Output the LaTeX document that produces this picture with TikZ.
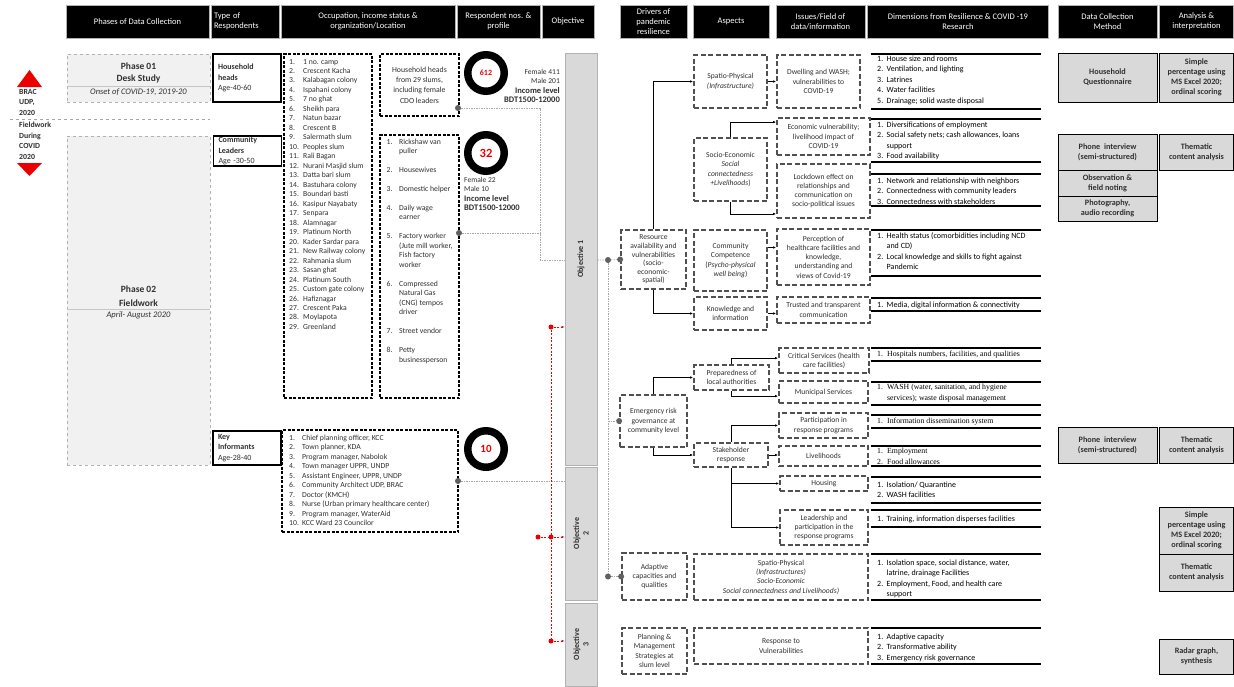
\documentclass[tikz,border=0pt]{standalone}
\usepackage{fontspec}
\setmainfont{Carlito}
\newfontfamily\timesfont{Liberation Serif}
\usetikzlibrary{arrows.meta, positioning, calc}
\definecolor{InkGray}{HTML}{303030}
\definecolor{DashGray}{HTML}{505050}
\definecolor{PhaseFill}{HTML}{F1F1F1}
\definecolor{MethodFill}{HTML}{D9D9D9}
\definecolor{AlertRed}{RGB}{235, 0, 0}

\begin{document}
\begin{tikzpicture}[x=1pt, y=-1pt,
    hdr/.style={fill=black, draw=gray!60, line width=0.6pt, text=white, align=center,
      font=\fontsize{8.5}{10}\selectfont, inner sep=1pt, minimum height=33pt},
    phase/.style={draw=gray!60, dashed, fill=PhaseFill, line width=0.8pt},
    tbox/.style={draw=black, line width=1.6pt, align=left, text width=58pt, inner xsep=5pt,
      inner ysep=0.5pt, font=\fontsize{8}{10.2}\selectfont, text=InkGray},
    lbox/.style={draw=black, line width=1.1pt, dash pattern=on 3pt off 1.5pt},
    dbox/.style={draw=DashGray, line width=1.8pt, dash pattern=on 5pt off 2.5pt, align=center,
      font=\fontsize{7.6}{9.3}\selectfont, text=InkGray, inner sep=1pt},
    obox/.style={draw=gray!60, fill=MethodFill, line width=0.8pt, minimum width=32pt},
    otext/.style={rotate=90, align=center, text=InkGray, font=\bfseries\fontsize{8}{9.5}\selectfont},
    mbox/.style={draw=black, line width=1pt, fill=MethodFill, align=center,
      font=\bfseries\fontsize{8.2}{10}\selectfont, text=InkGray, inner sep=1pt},
    ring/.style={circle, draw=black, line width=7.5pt, minimum size=36.5pt, inner sep=0pt, text=AlertRed},
    plist/.style={inner sep=0pt, anchor=base west, text=InkGray, font=\fontsize{7.7}{9.48}\selectfont},
    dlist/.style={inner sep=0pt, anchor=base west, text=black, font=\fontsize{8}{10.4}\selectfont},
    jdot/.style={circle, fill=gray!75!black, inner sep=0pt, minimum size=6pt},
    rdot/.style={circle, fill=AlertRed, inner sep=0pt, minimum size=5pt},
    lnk/.style={gray!70, line width=0.6pt, dash pattern=on 1.5pt off 1pt},
    rlnk/.style={AlertRed, line width=0.6pt, dash pattern=on 2pt off 1.5pt},
    arr/.style={black, line width=0.6pt, -{Latex[length=3pt, width=2.5pt]}},
    dline/.style={black, line width=1.3pt}
  ]
\fill[white] (0,0) rectangle (1234,686);
\useasboundingbox (0,0) rectangle (1234,686);

% header row
\node[hdr, minimum width=143pt] (hPhase) at (137.5,21.5) {Phases of Data Collection};
\node[hdr, minimum width=68pt, align=left, text width=62pt] (hType) at (245,21.5) {Type of\\Respondents};
\node[hdr, minimum width=174pt] (hOcc) at (368,21.5) {Occupation, income status \&\\organization/Location};
\node[hdr, minimum width=83pt] (hResp) at (498.5,21.5) {Respondent nos. \&\\profile};
\node[hdr, minimum width=52pt] (hObj) at (568,21.5) {Objective};
\node[hdr, minimum width=67pt] (hDrv) at (653.5,21.5) {Drivers of\\pandemic\\resilience};
\node[hdr, minimum width=76pt] (hAsp) at (731,21.5) {Aspects};
\node[hdr, minimum width=89pt] (hIss) at (820.5,21.5) {Issues/Field of\\data/information};
\node[hdr, minimum width=181pt] (hDim) at (958,21.5) {Dimensions from Resilience \& COVID -19\\Research};
\node[hdr, minimum width=99pt] (hDcm) at (1107.5,21.5) {Data Collection\\Method};
\node[hdr, minimum width=74pt] (hAna) at (1196.5,21.5) {Analysis \&\\interpretation};

% phases
\fill[AlertRed] (17,87) -- (42,87) -- (29.5,70) -- cycle;
\fill[AlertRed] (17,163) -- (42,163) -- (29.5,176) -- cycle;
\node[anchor=north west, align=left, inner sep=0pt, text=InkGray, font=\bfseries\fontsize{7.8}{10.5}\selectfont] (brac) at (19,89) {BRAC\\UDP,\\2020};
\node[anchor=north west, align=left, inner sep=0pt, text=InkGray, font=\bfseries\fontsize{7.8}{10.5}\selectfont] (field) at (19,122) {Fieldwork\\During\\COVID\\2020};
\draw[gray!70, dashed, line width=0.8pt] (10,119) -- (210,119);

\node[phase, minimum width=143pt, minimum height=48pt] (ph1) at (138.5,78) {};
\node[align=center, text=InkGray, font=\bfseries\fontsize{9.5}{12.5}\selectfont] (ph1t) at (138.5,73) {Phase 01\\Desk Study};
\draw[gray!45, line width=0.6pt] ([yshift=-8pt]ph1.west) -- ([yshift=-8pt]ph1.east);
\node[text=InkGray, font=\itshape\fontsize{8.5}{9}\selectfont] (ph1d) at (138.5,92) {Onset of COVID-19, 2019-20};

\node[phase, minimum width=143pt, minimum height=329pt] (ph2) at (138.5,300.5) {};
\node[align=center, text=InkGray, font=\bfseries\fontsize{9.5}{13.5}\selectfont] (ph2t) at (138.5,296) {Phase 02\\Fieldwork};
\draw[gray!45, line width=0.6pt] ([yshift=-8.5pt]ph2.west) -- ([yshift=-8.5pt]ph2.east);
\node[text=InkGray, font=\itshape\fontsize{8.5}{9}\selectfont] (ph2d) at (138.5,315) {April- August 2020};

% respondents
\node[tbox, minimum height=48pt] (tHH) at (247,78) {\textbf{Household}\\\textbf{heads}\\Age-40-60};
\node[tbox, minimum height=30pt] (tCL) at (247.5,151) {\textbf{Community}\\\textbf{Leaders}\\Age -30-50};
\node[tbox, minimum height=34pt] (tKI) at (247,448) {\textbf{Key}\\\textbf{Informants}\\Age-28-40};

\node[lbox, minimum width=88pt, minimum height=344pt] (occ) at (328,226) {};
\node[plist] (occl) at (289,64) {\begin{tabular}[t]{@{}p{10pt}@{\hspace{4pt}}l@{}}
1. & 1 no. camp\\ 2. & Crescent Kacha\\ 3. & Kalabagan colony\\ 4. & Ispahani colony\\
5. & 7 no ghat\\ 6. & Sheikh para\\ 7. & Natun bazar\\ 8. & Crescent B\\
9. & Salermath slum\\ 10. & Peoples slum\\ 11. & Rali Bagan\\ 12. & Nurani Masjid slum\\
13. & Datta bari slum\\ 14. & Bastuhara colony\\ 15. & Boundari basti\\ 16. & Kasipur Nayabaty\\
17. & Senpara\\ 18. & Alamnagar\\ 19. & Platinum North\\ 20. & Kader Sardar para\\
21. & New Railway colony\\ 22. & Rahmania slum\\ 23. & Sasan ghat\\ 24. & Platinum South\\
25. & Custom gate colony\\ 26. & Hafiznagar\\ 27. & Crescent Paka\\ 28. & Moylapota\\
29. & Greenland
\end{tabular}};

\node[lbox, minimum width=79pt, minimum height=62pt, align=center, text=InkGray, font=\fontsize{7.8}{10.3}\selectfont] (hh29) at (419.5,85) {Household heads\\from 29 slums,\\including female\\CDO leaders};

\node[lbox, minimum width=79pt, minimum height=263pt] (clb) at (419.5,266.5) {};
\node[plist] (cll) at (386.5,144) {\begin{tabular}[t]{@{}p{8.5pt}@{\hspace{4pt}}l@{}}
1. & Rickshaw van\\ & puller\\ & \\ 2. & Housewives\\ & \\ 3. & Domestic helper\\ & \\
4. & Daily wage\\ & earner\\ & \\ 5. & Factory worker\\ & (Jute mill worker,\\ & Fish factory\\ & worker\\ & \\
6. & Compressed\\ & Natural Gas\\ & (CNG) tempos\\ & driver\\ & \\ 7. & Street vendor\\ & \\
8. & Petty\\ & businessperson
\end{tabular}};

\node[lbox, minimum width=176pt, minimum height=102pt] (kib) at (370,481) {};
\node[plist, font=\fontsize{7.7}{9.5}\selectfont] (kil) at (289,440) {\begin{tabular}[t]{@{}p{9pt}@{\hspace{4pt}}l@{}}
1. & Chief planning officer, KCC\\ 2. & Town planner, KDA\\ 3. & Program manager, Nabolok\\
4. & Town manager UPPR, UNDP\\ 5. & Assistant Engineer, UPPR, UNDP\\ 6. & Community Architect UDP, BRAC\\
7. & Doctor (KMCH)\\ 8. & Nurse (Urban primary healthcare center)\\ 9. & Program manager, WaterAid\\
10. & KCC Ward 23 Councilor
\end{tabular}};

% respondent numbers
\node[ring, font=\bfseries\fontsize{8}{9}\selectfont] (c612) at (486,73) {612};
\node[ring, font=\bfseries\fontsize{12.5}{14}\selectfont] (c32) at (486,153) {32};
\node[ring, font=\bfseries\fontsize{11}{12}\selectfont] (c10) at (486,449) {10};
\node[anchor=north east, align=right, inner sep=0pt, text=InkGray, font=\fontsize{7.5}{9.5}\selectfont] (p612) at (560,69) {Female 411\\Male 201\\{\bfseries\fontsize{8.5}{9.5}\selectfont Income level}\\{\bfseries\fontsize{8.5}{9.5}\selectfont BDT1500-12000}};
\node[anchor=north west, align=left, inner sep=0pt, text=InkGray, font=\fontsize{7.5}{9.5}\selectfont] (p32) at (464,177) {Female 22\\Male 10\\{\bfseries\fontsize{8.5}{10}\selectfont Income level}\\{\bfseries\fontsize{8.5}{10}\selectfont BDT1500-12000}};

% objectives
\node[obox, minimum height=412pt] (obj1) at (581,259) {};
\node[otext] (obj1t) at (obj1) {Objective 1};
\node[obox, minimum height=133pt] (obj2) at (581,533.5) {};
\node[otext] (obj2t) at (obj2) {Objective\\2};
\node[obox, minimum height=83pt] (obj3) at (581,644.5) {};
\node[otext] (obj3t) at (obj3) {Objective\\3};

% respondents to objective 1
\node[jdot] (d612) at (458,108) {};
\node[jdot] (dcl) at (459,233) {};
\node[jdot] (dki) at (458,481) {};
\coordinate (jn) at (540,260);
\draw[lnk] (d612) -| (jn) -- (jn -| obj1.west);
\draw[lnk] (dcl) -- (dcl -| jn);
\draw[lnk] (dki) -- (dki -| obj1.west);

% red links to objectives
\node[rdot] (r1) at (551,327) {};
\node[rdot] (r2) at (551,537) {};
\node[rdot] (r2b) at (538,537) {};
\node[rdot] (r3) at (551,641) {};
\draw[rlnk] (r1) -- (r3);
\draw[rlnk] (r2b) -- (r2);
\draw[rlnk, -{Latex[length=3pt, width=2.5pt]}] (r1) -- (r1 -| obj1.west);
\draw[rlnk, -{Latex[length=3pt, width=2.5pt]}] (r2) -- (r2 -| obj2.west);
\draw[rlnk, -{Latex[length=3pt, width=2.5pt]}] (r3) -- (r3 -| obj3.west);

% drivers
\node[dbox, minimum width=65pt, minimum height=59pt, font=\fontsize{7.6}{8.6}\selectfont] (res) at (653.5,259.5) {Resource\\availability and\\vulnerabilities\\(socio-\\economic-\\spatial)};
\node[dbox, minimum width=67pt, minimum height=52pt] (emg) at (653.5,421) {Emergency risk\\governance at\\community level};
\node[dbox, minimum width=65pt, minimum height=47pt] (adp) at (654.5,576.5) {Adaptive\\capacities and\\qualities};
\node[dbox, minimum width=65pt, minimum height=46pt] (pln) at (654.5,651) {Planning \&\\Management\\Strategies at\\slum level};

\node[jdot] (dob) at (608,260) {};
\node[jdot] (dres) at (res.west) {};
\node[jdot] (demg) at (emg.west) {};
\node[jdot] (dob2) at (608,576.5) {};
\node[jdot] (dadp) at (adp.west) {};
\draw[lnk] (obj1.east |- dob) -- (dob) -- (dres);
\draw[lnk] (dob) -- (dob2) -- (dadp);
\draw[lnk] (dob |- demg) -- (demg);

% aspects
\node[dbox, minimum width=73pt, minimum height=53pt] (sp) at (730.5,81.5) {Spatio-Physical\\\textit{(Infrastructure)}};
\node[dbox, minimum width=73pt, minimum height=63pt] (se) at (730.5,169.5) {Socio-Economic\\\textit{Social}\\\textit{connectedness}\\\textit{+Livelihoods})};
\node[dbox, minimum width=73pt, minimum height=61pt] (cc) at (730.5,260.5) {Community\\Competence\\(\textit{Psycho-physical}\\\textit{well being})};
\node[dbox, minimum width=73pt, minimum height=33pt] (kn) at (730.5,313.5) {Knowledge and\\information};
\node[dbox, minimum width=75pt, minimum height=25pt] (pr) at (731.5,377.5) {Preparedness of\\local authorities};
\node[dbox, minimum width=74pt, minimum height=24pt] (sh) at (731,455) {Stakeholder\\response};
\node[dbox, minimum width=174pt, minimum height=46pt] (sp2) at (781,577) {Spatio-Physical\\\textit{(Infrastructures)}\\\textit{Socio-Economic}\\\textit{Social connectedness and Livelihoods)}};
\node[dbox, minimum width=174pt, minimum height=36pt] (rv) at (781,646) {Response to\\Vulnerabilities};

% issues
\node[dbox, minimum width=83pt, minimum height=53pt] (dw) at (818.5,81.5) {Dwelling and WASH;\\vulnerabilities to\\COVID-19};
\node[dbox, minimum width=93pt, minimum height=37pt] (ev) at (823.5,136.5) {Economic vulnerability;\\livelihood impact of\\COVID-19};
\node[dbox, minimum width=93pt, minimum height=54pt] (lk) at (823.5,191) {Lockdown effect on\\relationships and\\communication on\\socio-political issues};
\node[dbox, minimum width=93pt, minimum height=56pt] (pc) at (823.5,257) {Perception of\\healthcare facilities and\\knowledge,\\understanding and\\views of Covid-19};
\node[dbox, minimum width=93pt, minimum height=26pt] (tr) at (823.5,310) {Trusted and transparent\\communication};
\node[dbox, minimum width=90pt, minimum height=25pt] (cs) at (824,360.5) {Critical Services (health\\care facilities)};
\node[dbox, minimum width=89pt, minimum height=22pt] (ms) at (823.5,392) {Municipal Services};
\node[dbox, minimum width=89pt, minimum height=25pt] (pp) at (823.5,425.5) {Participation in\\response programs};
\node[dbox, minimum width=89pt, minimum height=20pt] (lv) at (823.5,456) {Livelihoods};
\node[dbox, minimum width=88pt, minimum height=15pt] (hs) at (824,483.5) {Housing};
\node[dbox, minimum width=88pt, minimum height=35pt] (ld) at (824,527.5) {Leadership and\\participation in the\\response programs};

% connectors
\draw[arr] (res.north) |- (sp.west);
\draw[arr] (res.south) |- (kn.west);
\draw[arr] (sp.east) -- (dw.west);
\draw[arr] (se.north) |- ([yshift=-5pt]ev.north west);
\draw[arr] (se.south) |- ([yshift=5pt]lk.south west);
\draw[arr] ([yshift=13pt]cc.east) -- ([yshift=13pt]cc.east -| pc.west);
\draw[arr] (kn.east) -- (kn.east -| tr.west);
\draw[arr] (emg.north) |- (pr.west);
\draw[arr] (emg.south) |- (sh.west);
\draw[arr] (pr.north) |- ([yshift=-11pt]cs.north west);
\draw[arr] (pr.south) |- ([yshift=-16pt]ms.north west);
\draw[arr] (sh.north) |- (pp.west);
\draw[arr] (sh.east) -- (sh.east -| lv.west);
\draw[arr] (sh.south) |- (hs.west);
\draw[arr] (sh.south) |- (ld.west);

% dimensions
\foreach \y in {54,109,119,162,174,206,230,276,298,311,348,361,382,405,415,428,446,466,477,503,510,527,554,600,628,664}
  \draw[dline] (871,\y) -- (1041,\y);
\node[dlist] (dim1) at (877,61.5) {\begin{tabular}[t]{@{}p{6pt}@{\hspace{3.5pt}}l@{}}
1.&House size and rooms\\2.&Ventilation, and lighting\\3.&Latrines\\4.&Water facilities\\5.&Drainage; solid waste disposal\end{tabular}};
\node[dlist] (dim2) at (877,127.5) {\begin{tabular}[t]{@{}p{6pt}@{\hspace{3.5pt}}l@{}}
1.&Diversifications of employment\\2.&Social safety nets; cash allowances, loans\\&support\\3.&Food availability\end{tabular}};
\node[dlist] (dim3) at (877,183.5) {\begin{tabular}[t]{@{}p{6pt}@{\hspace{3.5pt}}l@{}}
1.&Network and relationship with neighbors\\2.&Connectedness with community leaders\\3.&Connectedness with stakeholders\end{tabular}};
\node[dlist] (dim4) at (877,238.5) {\begin{tabular}[t]{@{}p{6pt}@{\hspace{3.5pt}}l@{}}
1.&Health status (comorbidities including NCD\\&and CD)\\2.&Local knowledge and skills to fight against\\&Pandemic\end{tabular}};
\node[dlist] (dim5) at (877,307.5) {\begin{tabular}[t]{@{}p{6pt}@{\hspace{3.5pt}}l@{}}
1.&Media, digital information \& connectivity\end{tabular}};
\node[dlist, font=\timesfont\fontsize{7.8}{11}\selectfont] (dim6) at (877,356.5) {\begin{tabular}[t]{@{}p{6pt}@{\hspace{4pt}}l@{}}
1.&Hospitals numbers, facilities, and qualities\end{tabular}};
\node[dlist, font=\timesfont\fontsize{7.8}{11}\selectfont] (dim7) at (877,389.5) {\begin{tabular}[t]{@{}p{6pt}@{\hspace{4pt}}l@{}}
1.&WASH (water, sanitation, and hygiene\\&services); waste disposal management\end{tabular}};
\node[dlist, font=\timesfont\fontsize{7.8}{11}\selectfont] (dim8) at (877,423.5) {\begin{tabular}[t]{@{}p{6pt}@{\hspace{4pt}}l@{}}
1.&Information dissemination system\end{tabular}};
\node[dlist, font=\timesfont\fontsize{7.8}{11}\selectfont] (dim9) at (877,453.5) {\begin{tabular}[t]{@{}p{6pt}@{\hspace{4pt}}l@{}}
1.&Employment\\2.&Food allowances\end{tabular}};
\node[dlist] (dim10) at (877,487.5) {\begin{tabular}[t]{@{}p{6pt}@{\hspace{3.5pt}}l@{}}
1.&Isolation/ Quarantine\\2.&WASH facilities\end{tabular}};
\node[dlist] (dim11) at (877,521.5) {\begin{tabular}[t]{@{}p{6pt}@{\hspace{3.5pt}}l@{}}
1.&Training, information disperses facilities\end{tabular}};
\node[dlist] (dim12) at (877,565.5) {\begin{tabular}[t]{@{}p{6pt}@{\hspace{3.5pt}}l@{}}
1.&Isolation space, social distance, water,\\&latrine, drainage Facilities\\2.&Employment, Food, and health care\\&support\end{tabular}};
\node[dlist] (dim13) at (877,639.5) {\begin{tabular}[t]{@{}p{6pt}@{\hspace{3.5pt}}l@{}}
1.&Adaptive capacity\\2.&Transformative ability\\3.&Emergency risk governance\end{tabular}};

% methods and analysis
\node[mbox, minimum width=99pt, minimum height=49pt] (hq) at (1107.5,77.5) {Household\\Questionnaire};
\node[mbox, minimum width=74pt, minimum height=49pt] (an1) at (1196.5,77.5) {Simple\\percentage using\\MS Excel 2020;\\ordinal scoring};
\node[mbox, minimum width=99pt, minimum height=36pt] (pi1) at (1107.5,152) {Phone\ \ interview\\(semi-structured)};
\node[mbox, minimum width=74pt, minimum height=36pt] (an2) at (1196.5,152) {Thematic\\content analysis};
\node[mbox, minimum width=99pt, minimum height=26pt] (obs) at (1107.5,183) {Observation \&\\field noting};
\node[mbox, minimum width=99pt, minimum height=25pt] (pho) at (1107.5,208.5) {Photography,\\audio recording};
\node[mbox, minimum width=99pt, minimum height=36pt] (pi2) at (1107.5,445) {Phone\ \ interview\\(semi-structured)};
\node[mbox, minimum width=74pt, minimum height=36pt] (an3) at (1196.5,445) {Thematic\\content analysis};
\node[mbox, minimum width=74pt, minimum height=47pt] (an4) at (1196.5,530.5) {Simple\\percentage using\\MS Excel 2020;\\ordinal scoring};
\node[mbox, minimum width=74pt, minimum height=37pt] (an5) at (1196.5,572.5) {Thematic\\content analysis};
\node[mbox, minimum width=74pt, minimum height=35pt] (an6) at (1196.5,656.5) {Radar graph,\\synthesis};
\end{tikzpicture}
\end{document}
